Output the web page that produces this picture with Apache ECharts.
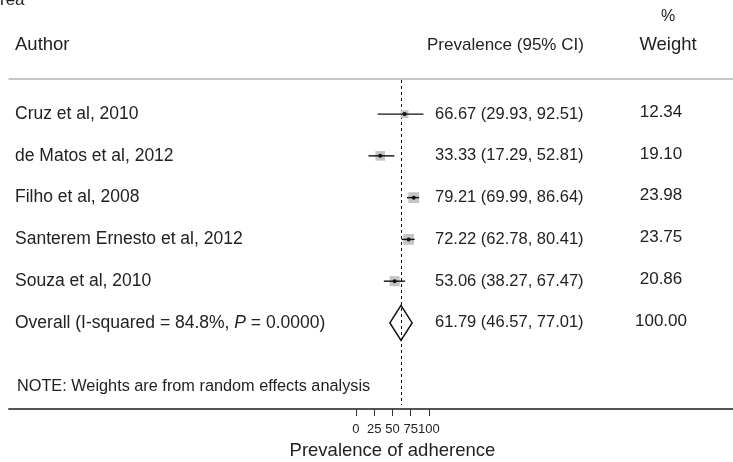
<!DOCTYPE html>
<html><head><meta charset="utf-8">
<script src="https://cdn.jsdelivr.net/npm/echarts@6/dist/echarts.min.js"></script>
<style>html,body{margin:0;padding:0;background:#fff}#c{width:733px;height:462px}</style>
</head><body><div id="c"></div>
<script>
// ---- data ----
const authors = ['Cruz et al, 2010', 'de Matos et al, 2012', 'Filho et al, 2008', 'Santerem Ernesto et al, 2012', 'Souza et al, 2010'];
const prevalence = [66.67, 33.33, 79.21, 72.22, 53.06];
const ciLower = [29.93, 17.29, 69.99, 62.78, 38.27];
const ciUpper = [92.51, 52.81, 86.64, 80.41, 67.47];
const weights = [12.34, 19.10, 23.98, 23.75, 20.86];
const overallLabel = 'Overall (I-squared = 84.8%, {i|P} = 0.0000)';
const overallEstimate = 61.79;
const overallLower = 46.57;
const overallUpper = 77.01;
const overallWeight = 100.00;
const noteText = 'NOTE: Weights are from random effects analysis';
const xTicks = [0, 25, 50, 75, 100];
const xTitle = 'Prevalence of adherence';

// ---- layout ----
const ROW_MIN = -0.84, ROW_MAX = 7.06, NOTE_ROW = 6.53;
const X_MIN = -475, X_MAX = 516.4;
const FONT = 'Liberation Sans, Arial, sans-serif';
const NARROW = 'Liberation Sans Narrow, Arial Narrow, Liberation Sans, sans-serif';
const TXT = '#222';

const fmt = v => v.toFixed(2);
const rowTexts = authors.map((a, i) => ({
  label: a, est: fmt(prevalence[i]) + ' (' + fmt(ciLower[i]) + ', ' + fmt(ciUpper[i]) + ')', w: fmt(weights[i])
}));
rowTexts.push({label: overallLabel, est: fmt(overallEstimate) + ' (' + fmt(overallLower) + ', ' + fmt(overallUpper) + ')', w: fmt(overallWeight)});
const overallRow = authors.length;

const chart = echarts.init(document.getElementById('c'), null, {renderer: 'canvas'});

const studyData = authors.map((a, i) => [i, prevalence[i], ciLower[i], ciUpper[i], weights[i]]);

chart.setOption({
  animation: false,
  grid: {left: 9, right: 0, top: 79, bottom: 53},
  xAxis: [{
    type: 'value', min: X_MIN, max: X_MAX, position: 'bottom',
    axisLine: {show: true, onZero: false, lineStyle: {color: '#555', width: 2}},
    axisTick: {show: true, customValues: xTicks, length: 7, lineStyle: {color: '#333', width: 1}},
    axisLabel: {show: true, customValues: xTicks, hideOverlap: false, showMinLabel: true, showMaxLabel: true,
      fontSize: 13, fontFamily: NARROW, color: TXT, margin: 14},
    splitLine: {show: false}
  }, {
    type: 'value', min: X_MIN, max: X_MAX, position: 'top',
    axisLine: {show: true, onZero: false, lineStyle: {color: '#b4b4b4', width: 1.5}},
    axisTick: {show: false}, axisLabel: {show: false}, splitLine: {show: false}
  }],
  yAxis: {type: 'value', min: ROW_MIN, max: ROW_MAX, inverse: true, show: false, splitLine: {show: false}},
  series: [{
    type: 'custom', name: 'overall', xAxisIndex: 0,
    data: [[overallRow, overallEstimate, overallLower, overallUpper]],
    encode: {x: [1, 2, 3], y: 0},
    renderItem: function (params, api) {
      const row = api.value(0);
      const c = api.coord([api.value(1), row]);
      const l = api.coord([api.value(2), row]);
      const h = api.coord([api.value(3), row]);
      const top = api.coord([api.value(1), ROW_MIN]);
      const bot = api.coord([api.value(1), ROW_MAX]);
      const hh = 17.5;
      const dx = Math.round(c[0]) + 0.5;
      return {type: 'group', children: [
        {type: 'line', shape: {x1: dx, y1: top[1] + 1, x2: dx, y2: bot[1] - 4},
         style: {stroke: '#111', lineWidth: 1, lineDash: [3, 3]}, z2: 1},
        {type: 'polygon', shape: {points: [[l[0], c[1]], [c[0], c[1] - hh], [h[0], c[1]], [c[0], c[1] + hh]]},
         style: {fill: 'rgba(0,0,0,0)', stroke: '#111', lineWidth: 1.5}, z2: 3}
      ]};
    }
  }, {
    type: 'custom', name: 'studies', xAxisIndex: 0,
    data: studyData,
    encode: {x: [1, 2, 3], y: 0},
    z: 3,
    renderItem: function (params, api) {
      const row = api.value(0);
      const c = api.coord([api.value(1), row]);
      const l = api.coord([api.value(2), row]);
      const h = api.coord([api.value(3), row]);
      const side = 2.2 * Math.sqrt(api.value(4));
      return {type: 'group', children: [
        {type: 'rect', shape: {x: c[0] - side / 2, y: c[1] - side / 2, width: side, height: side}, style: {fill: '#c4c4c4'}},
        {type: 'line', shape: {x1: l[0], y1: l[1], x2: h[0], y2: h[1]}, style: {stroke: '#111', lineWidth: 1.4}},
        {type: 'circle', shape: {cx: c[0], cy: c[1], r: 2}, style: {fill: '#111'}}
      ]};
    }
  }, {
    type: 'custom', name: 'texts', xAxisIndex: 0,
    data: rowTexts.map((t, i) => [0, i]),
    encode: {x: 0, y: 1},
    renderItem: function (params, api) {
      const t = rowTexts[params.dataIndex];
      const p = api.coord([0, api.value(1)]);
      return {type: 'group', children: [
        {type: 'text', x: 15, y: p[1], style: {text: t.label, fill: TXT, fontFamily: FONT, fontSize: 17.5,
          align: 'left', verticalAlign: 'middle',
          rich: {i: {fontStyle: 'italic', fontFamily: FONT, fontSize: 17.5, fill: TXT}}}},
        {type: 'text', x: 435, y: p[1], style: {text: t.est, fill: TXT, fontFamily: NARROW, fontSize: 16.5,
          align: 'left', verticalAlign: 'middle'}},
        {type: 'text', x: 661, y: p[1] - 2, style: {text: t.w, fill: TXT, fontFamily: NARROW, fontSize: 17,
          align: 'center', verticalAlign: 'middle'}}
      ]};
    }
  }, {
    type: 'custom', name: 'note', xAxisIndex: 0,
    data: [[0, NOTE_ROW]],
    encode: {x: 0, y: 1},
    renderItem: function (params, api) {
      const p = api.coord([0, api.value(1)]);
      return {type: 'text', x: 17, y: p[1], style: {text: noteText, fill: TXT, fontFamily: FONT, fontSize: 16.3,
        align: 'left', verticalAlign: 'middle'}};
    }
  }],
  graphic: [
    {id: 'cut', type: 'text', x: 0, y: 9, style: {text: 'rea', fill: TXT, fontFamily: FONT, fontSize: 17, align: 'left', verticalAlign: 'bottom'}},
    {id: 'hAuthor', type: 'text', x: 15, y: 45, style: {text: 'Author', fill: TXT, fontFamily: FONT, fontSize: 18.5, align: 'left', verticalAlign: 'middle'}},
    {id: 'hPrev', type: 'text', x: 427, y: 45, style: {text: 'Prevalence (95% CI)', fill: TXT, fontFamily: FONT, fontSize: 17, align: 'left', verticalAlign: 'middle'}},
    {id: 'hPct', type: 'text', x: 668, y: 17, style: {text: '%', fill: TXT, fontFamily: FONT, fontSize: 16, align: 'center', verticalAlign: 'middle'}},
    {id: 'hWeight', type: 'text', x: 668, y: 45, style: {text: 'Weight', fill: TXT, fontFamily: FONT, fontSize: 18.5, align: 'center', verticalAlign: 'middle'}}
  ]
});

const p0 = chart.convertToPixel({xAxisIndex: 0}, xTicks[0]);
const p1 = chart.convertToPixel({xAxisIndex: 0}, xTicks[xTicks.length - 1]);
chart.setOption({graphic: [
  {id: 'xTitle', type: 'text', x: (p0 + p1) / 2, y: 451, style: {text: xTitle, fill: TXT, fontFamily: FONT, fontSize: 18.5, align: 'center', verticalAlign: 'middle'}}
]});
</script>
</body></html>
